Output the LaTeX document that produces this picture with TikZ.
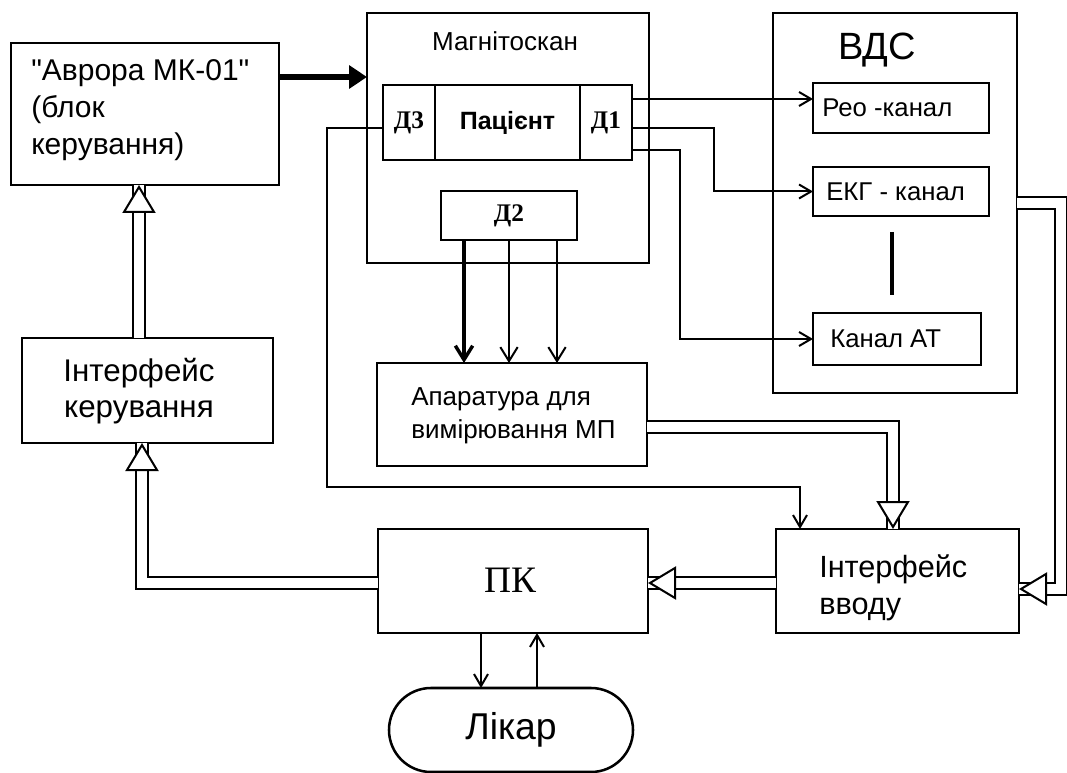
\documentclass[tikz,border=0pt]{standalone}
\usepackage{fontspec}
\setmainfont{Liberation Sans}[Ligatures=TeXOff]
\newfontfamily\serifface{Liberation Serif}
\usetikzlibrary{arrows.meta}
\begin{document}
\begin{tikzpicture}[x=0.75pt,y=-0.75pt,
  box/.style={draw, line width=1.9pt, rectangle, inner sep=0pt, outer sep=0pt},
  sz/.style 2 args={minimum width=#1*0.75pt, minimum height=#2*0.75pt},
  wire/.style={line width=1.5pt},
  barb/.style={wire, -{Straight Barb[length=9pt,width=10.5pt]}},
  bigbarb/.style={-{Straight Barb[length=10.5pt,width=13pt]}},
  pipe/.style={line width=1.5pt, double=white, double distance=6.8pt, line join=miter},
  pics/vhead/.style={code={\draw[fill=white, line width=1.5pt, line join=miter]
      (-2,0) -- (-27,-15) -- (-27,15) -- cycle;}},
  lbl/.style={inner sep=0pt, font=\fontsize{19.3}{23}\selectfont},
  dlbl/.style={inner sep=0pt, font=\serifface\bfseries\fontsize{19}{23}\selectfont}
]
\useasboundingbox (0,0) rectangle (1067,773);

% ---- blocks ----
\node[box, sz={268}{142}] (avr) at (145,114) {};
\node[box, sz={282}{250}] (mag) at (508,138) {};
\node[box, sz={52}{75}]   (d3)  at (409,122.5) {};
\node[box, sz={145}{75}]  (pat) at (507.5,122.5) {};
\node[box, sz={52}{75}]   (d1)  at (606,122.5) {};
\node[box, sz={136}{49}]  (d2)  at (509,215.5) {};
\node[box, sz={244}{380}] (vds) at (895,203) {};
\node[box, sz={176}{50}]  (reo) at (901,108) {};
\node[box, sz={176}{49}]  (ekg) at (901,191.5) {};
\node[box, sz={168}{52}]  (at)  at (897,339) {};
\node[box, sz={270}{103}] (app) at (512,414.5) {};
\node[box, sz={243}{104}] (ivv) at (897.5,581) {};
\node[box, sz={270}{104}] (pk)  at (513,581) {};
\node[box, sz={251}{105}] (ik)  at (147.5,390.5) {};
\node[box, sz={244}{84}, rounded corners=31.5pt] (lik) at (511,730) {};

% ---- labels ----
\node[anchor=west, align=left, inner sep=0pt, font=\fontsize{22.5}{27.75}\selectfont]
  (avrtxt) at (31,110) {"Аврора МК-01"\\(блок\\керування)};
\node[inner sep=0pt, font=\fontsize{19.5}{22}\selectfont] (magtxt) at (505,41) {Магнітоскан};
\node[inner sep=0pt, font=\bfseries\fontsize{18.75}{23}\selectfont] (pattxt) at (pat.center) {Пацієнт};
\node[dlbl] (d3txt) at (d3.center) {Д3};
\node[dlbl] (d1txt) at (d1.center) {Д1};
\node[dlbl] (d2txt) at (d2.center) {Д2};
\node[inner sep=0pt, font=\fontsize{28.5}{32}\selectfont] (vdstxt) at (877,50) {ВДС};
\node[lbl, anchor=west] (reotxt) at (822,108) {Рео -канал};
\node[lbl, anchor=west] (ekgtxt) at (826,191.5) {ЕКГ - канал};
\node[lbl, anchor=west] (attxt)  at (830,339) {Канал АТ};
\node[anchor=west, align=left, inner sep=0pt, font=\fontsize{19.5}{25}\selectfont]
  (apptxt) at (411,416) {Апаратура для\\вимірювання МП};
\node[align=center, inner sep=0pt, font=\fontsize{23.5}{26.5}\selectfont]
  (iktxt) at (139,391) {Інтерфейс\\керування};
\node[anchor=west, align=left, inner sep=0pt, font=\fontsize{23}{27.5}\selectfont]
  (ivvtxt) at (819,588) {Інтерфейс\\вводу};
\node[inner sep=0pt, font=\serifface\fontsize{28}{32}\selectfont] (pktxt) at (510,580) {ПК};
\node[inner sep=0pt, font=\fontsize{28}{32}\selectfont] (liktxt) at (lik.center) {Лікар};

% ---- ellipsis between channels ----
\draw[line width=3pt] (892,232) -- (892,295);

% ---- control signal ----
\draw[line width=4.5pt, -{Triangle[length=13.5pt,width=17pt]}] (avr.east |- 0,77) -- (mag.west |- 0,77);

% ---- sensor wires ----
\draw[barb] (d1.east |- 0,99) -- (reo.west |- 0,99);
\draw[barb] (d1.east |- 0,128) -- (714,128) |- (ekg.west);
\draw[barb] (d1.east |- 0,150) -- (680,150) |- (at.west);
\draw[barb] (d3.west |- 0,128) -- (327,128) |- (800,487) -- (800,0 |- ivv.north);
\draw[wire, line width=2.6pt, bigbarb] (d2.south -| 464,0) -- (app.north -| 464,0);
\draw[wire, bigbarb] (d2.south -| 509,0) -- (app.north -| 509,0);
\draw[wire, bigbarb] (d2.south -| 557,0) -- (app.north -| 557,0);

% ---- data buses ----
\draw[pipe] (app.east |- 0,427) -| (893,0 |- ivv.north);
\pic[rotate=-90] at (893,0 |- ivv.north) {vhead};
\draw[pipe] (vds.east |- 0,203) -| (1061,589) -- (ivv.east |- 0,589);
\pic[rotate=180] at (ivv.east |- 0,589) {vhead};
\draw[pipe] (ivv.west |- 0,583) -- (pk.east |- 0,583);
\pic[rotate=180] at (pk.east |- 0,583) {vhead};
\draw[pipe] (pk.west |- 0,583) -| (142,0 |- ik.south);
\pic[rotate=90] at (142,0 |- ik.south) {vhead};
\draw[pipe] (ik.north -| 139,0) -- (avr.south -| 139,0);
\pic[rotate=90] at (avr.south -| 139,0) {vhead};

% ---- doctor ----
\draw[barb] (481,0 |- pk.south) -- (481,0 |- lik.north);
\draw[barb] (537,0 |- lik.north) -- (537,0 |- pk.south);
\end{tikzpicture}
\end{document}
